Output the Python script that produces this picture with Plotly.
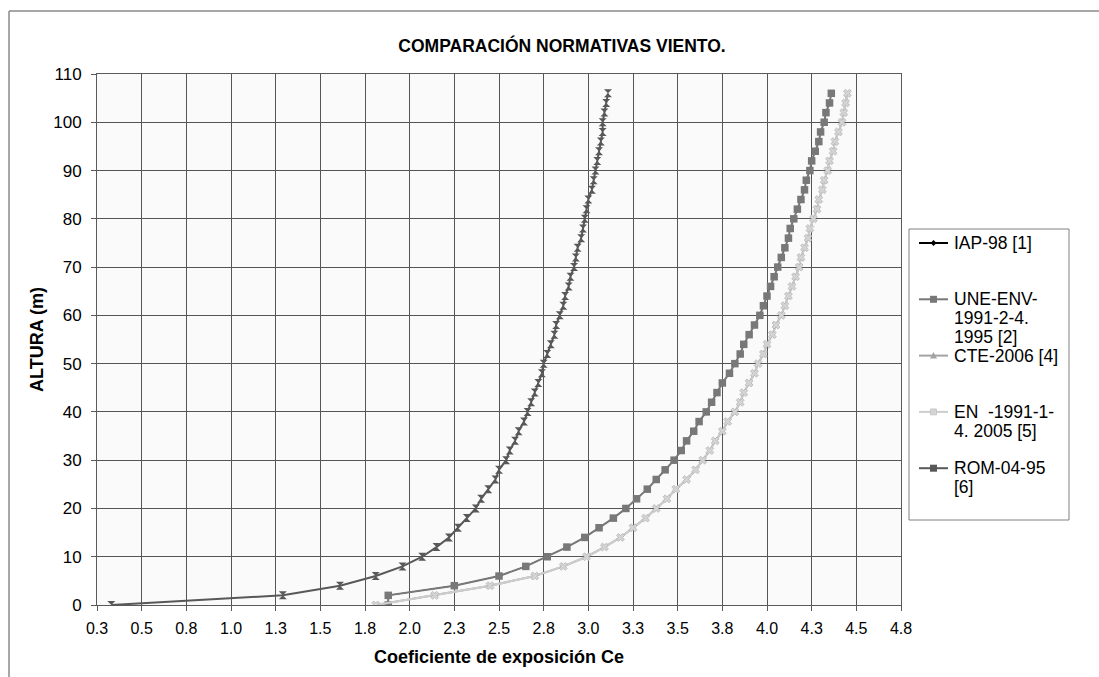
import plotly.graph_objects as go

# ---------------- data ----------------
alturas = [0, 2, 4, 6, 8, 10, 12, 14, 16, 18, 20, 22, 24, 26, 28, 30, 32, 34, 36, 38,
           40, 42, 44, 46, 48, 50, 52, 54, 56, 58, 60, 62, 64, 66, 68, 70, 72, 74, 76, 78,
           80, 82, 84, 86, 88, 90, 92, 94, 96, 98, 100, 102, 104, 106]

iap_98 = [1.88, 1.88, 2.25, 2.50, 2.65, 2.77, 2.88, 2.98, 3.06, 3.14, 3.21, 3.27, 3.33, 3.38,
          3.43, 3.48, 3.52, 3.55, 3.59, 3.62, 3.66, 3.69, 3.72, 3.75, 3.79, 3.82, 3.85, 3.87,
          3.90, 3.93, 3.96, 3.98, 4.00, 4.02, 4.04, 4.06, 4.08, 4.10, 4.12, 4.13, 4.15, 4.17,
          4.19, 4.21, 4.22, 4.24, 4.25, 4.27, 4.29, 4.30, 4.32, 4.33, 4.35, 4.36]

une_env = [1.88, 1.88, 2.25, 2.50, 2.65, 2.77, 2.88, 2.98, 3.06, 3.14, 3.21, 3.27, 3.33, 3.38,
           3.43, 3.48, 3.52, 3.55, 3.59, 3.62, 3.66, 3.69, 3.72, 3.75, 3.79, 3.82, 3.85, 3.87,
           3.90, 3.93, 3.96, 3.98, 4.00, 4.02, 4.04, 4.06, 4.08, 4.10, 4.12, 4.13, 4.15, 4.17,
           4.19, 4.21, 4.22, 4.24, 4.25, 4.27, 4.29, 4.30, 4.32, 4.33, 4.35, 4.36]

cte_2006 = [1.81, 2.14, 2.45, 2.70, 2.86, 2.99, 3.09, 3.18, 3.25, 3.32, 3.38, 3.44, 3.49, 3.55,
            3.60, 3.64, 3.68, 3.71, 3.75, 3.78, 3.82, 3.85, 3.87, 3.90, 3.93, 3.95, 3.98, 4.00,
            4.03, 4.05, 4.08, 4.10, 4.12, 4.14, 4.16, 4.18, 4.19, 4.21, 4.23, 4.24, 4.26, 4.28,
            4.29, 4.31, 4.32, 4.34, 4.35, 4.37, 4.38, 4.40, 4.42, 4.43, 4.44, 4.45]

en_1991 = [1.81, 2.14, 2.45, 2.70, 2.86, 2.99, 3.09, 3.18, 3.25, 3.32, 3.38, 3.44, 3.49, 3.55,
           3.60, 3.64, 3.68, 3.71, 3.75, 3.78, 3.82, 3.85, 3.87, 3.90, 3.93, 3.95, 3.98, 4.00,
           4.03, 4.05, 4.08, 4.10, 4.12, 4.14, 4.16, 4.18, 4.19, 4.21, 4.23, 4.24, 4.26, 4.28,
           4.29, 4.31, 4.32, 4.34, 4.35, 4.37, 4.38, 4.40, 4.42, 4.43, 4.44, 4.45]

rom_04_95 = [0.33, 1.29, 1.61, 1.81, 1.96, 2.07, 2.15, 2.22, 2.27, 2.32, 2.37, 2.40, 2.44, 2.48,
             2.50, 2.54, 2.56, 2.59, 2.61, 2.64, 2.66, 2.68, 2.70, 2.72, 2.74, 2.75, 2.77, 2.79,
             2.81, 2.82, 2.84, 2.86, 2.87, 2.89, 2.90, 2.92, 2.93, 2.94, 2.96, 2.97, 2.98, 2.99,
             3.00, 3.02, 3.03, 3.04, 3.05, 3.06, 3.07, 3.08, 3.08, 3.09, 3.10, 3.11]

legend_lines = [
    ["IAP-98 [1]"],
    ["UNE-ENV-", "1991-2-4.", "1995 [2]"],
    ["CTE-2006 [4]"],
    ["EN\u00a0 -1991-1-", "4. 2005 [5]"],
    ["ROM-04-95", "[6]"],
]

x_tickvals = [0.25, 0.5, 0.75, 1.0, 1.25, 1.5, 1.75, 2.0, 2.25, 2.5, 2.75, 3.0, 3.25, 3.5,
              3.75, 4.0, 4.25, 4.5, 4.75]
x_ticktext = ["0.3", "0.5", "0.8", "1.0", "1.3", "1.5", "1.8", "2.0", "2.3", "2.5", "2.8",
              "3.0", "3.3", "3.5", "3.8", "4.0", "4.3", "4.5", "4.8"]
y_tickvals = [0, 10, 20, 30, 40, 50, 60, 70, 80, 90, 100, 110]

# ---------------- styles ----------------
series = [
    dict(x=iap_98, color="#000000", mcolor="#000000", symbol="diamond", size=5, width=1, legsym="diamond"),
    dict(x=une_env, color="#787878", mcolor="#787878", symbol="square", size=7.5, width=2, legsym="square"),
    dict(x=cte_2006, color="#a3a3a3", mcolor="#a3a3a3", symbol="triangle-up", size=5, width=2, legsym="triangle"),
    dict(x=en_1991, color="#cdcdcd", mcolor="#d4d4d4", symbol="x", size=7, width=2, legsym="x"),
    dict(x=rom_04_95, color="#585858", mcolor="#585858", symbol="hourglass", size=8, width=2, legsym="square"),
]

FONT = "Liberation Sans, Arial, sans-serif"
W, H = 1099, 677
# plot area in screen pixels
SL, SR, ST, SB = 97, 901, 74, 605


def fx(p):  # screen px -> paper
    return (p - SL) / (SR - SL)


def fy(p):
    return (SB - p) / (SB - ST)


fig = go.Figure()
for s, lines in zip(series, legend_lines):
    fig.add_trace(go.Scatter(
        x=s["x"], y=alturas, mode="lines+markers",
        name=" ".join(lines),
        line=dict(color=s["color"], width=s["width"]),
        marker=dict(symbol=s["symbol"], size=s["size"], color=s["mcolor"],
                    line=dict(width=0.6 if s["symbol"] == "x" else 0, color="#a8a8a8")),
        showlegend=False,
    ))

shapes = []
annotations = []

# outer chart-area frame (left and top edges visible in the picture)
shapes.append(dict(type="line", xref="paper", yref="paper",
                   x0=fx(9), x1=fx(9), y0=fy(11), y1=fy(700),
                   line=dict(color="#8a8a8a", width=1.5), layer="below"))
shapes.append(dict(type="line", xref="paper", yref="paper",
                   x0=fx(9), x1=fx(1120), y0=fy(11), y1=fy(11),
                   line=dict(color="#8a8a8a", width=1.5), layer="below"))

# legend box
shapes.append(dict(type="rect", xref="paper", yref="paper",
                   x0=fx(909), x1=fx(1069), y0=fy(520), y1=fy(229),
                   line=dict(color="#808080", width=1), fillcolor="white"))

first_y = 243
step = 56.3
for i, (s, lines) in enumerate(zip(series, legend_lines)):
    yc = first_y + i * step
    col = s["color"]
    shapes.append(dict(type="line", xref="paper", yref="paper",
                       x0=fx(919), x1=fx(948), y0=fy(yc), y1=fy(yc),
                       line=dict(color=col, width=2)))
    cx = 933.5
    r = 3.5
    if s["legsym"] == "square":
        shapes.append(dict(type="rect", xref="paper", yref="paper",
                           x0=fx(cx - r), x1=fx(cx + r), y0=fy(yc + r), y1=fy(yc - r),
                           line=dict(width=0), fillcolor=s["mcolor"]))
    elif s["legsym"] == "diamond":
        d = 3
        shapes.append(dict(type="path", xref="paper", yref="paper",
                           path=f"M {fx(cx)},{fy(yc - d)} L {fx(cx + d)},{fy(yc)} L {fx(cx)},{fy(yc + d)} L {fx(cx - d)},{fy(yc)} Z",
                           line=dict(width=0), fillcolor=s["mcolor"]))
    elif s["legsym"] == "triangle":
        d = 3.5
        shapes.append(dict(type="path", xref="paper", yref="paper",
                           path=f"M {fx(cx)},{fy(yc - d)} L {fx(cx + d)},{fy(yc + d * 0.8)} L {fx(cx - d)},{fy(yc + d * 0.8)} Z",
                           line=dict(width=0), fillcolor=s["mcolor"]))
    else:
        d = 3
        shapes.append(dict(type="rect", xref="paper", yref="paper",
                           x0=fx(cx - d), x1=fx(cx + d), y0=fy(yc + d), y1=fy(yc - d),
                           line=dict(width=0.6, color="#b8b8b8"), fillcolor=s["mcolor"]))
    for j, txt in enumerate(lines):
        annotations.append(dict(xref="paper", yref="paper", x=fx(952), y=fy(yc + j * 19),
                                xanchor="left", yanchor="middle", showarrow=False, text=txt,
                                font=dict(family=FONT, size=17.5, color="#000000")))

fig.update_layout(
    width=W, height=H,
    margin=dict(l=SL, r=W - SR, t=ST, b=H - SB, pad=0),
    paper_bgcolor="white",
    plot_bgcolor="#fafafa",
    showlegend=False,
    title=dict(text="COMPARACIÓN NORMATIVAS VIENTO.", x=562 / W, xanchor="center",
               y=1 - 46 / H, yanchor="middle",
               font=dict(family=FONT, size=17.5, color="#000000", weight="bold")),
    xaxis=dict(range=[0.25, 4.75], tickvals=x_tickvals, ticktext=x_ticktext,
               automargin=False,
               showgrid=True, gridcolor="#555555", gridwidth=1, zeroline=False,
               showline=True, linecolor="#5a5a5a", linewidth=1, mirror=True,
               ticks="outside", ticklen=5, tickcolor="#5a5a5a",
               ticklabelstandoff=4,
               tickfont=dict(family=FONT, size=16, color="#000000"),
               title=dict(text="Coeficiente de exposición Ce", standoff=14,
                          font=dict(family=FONT, size=18, color="#000000", weight="bold"))),
    yaxis=dict(range=[0, 110], tickvals=y_tickvals,
               automargin=False,
               showgrid=True, gridcolor="#555555", gridwidth=1, zeroline=False,
               showline=True, linecolor="#5a5a5a", linewidth=1, mirror=True,
               ticks="outside", ticklen=5, tickcolor="#5a5a5a",
               ticklabelstandoff=6,
               tickfont=dict(family=FONT, size=17, color="#000000"),
               title=dict(text="ALTURA (m)", standoff=4,
                          font=dict(family=FONT, size=18, color="#000000", weight="bold"))),
    shapes=shapes,
    annotations=annotations,
)

fig.write_html(
    "out.html",
    config={"displayModeBar": False},
    post_script=(
        "document.documentElement.style.margin='0';"
        "document.body.style.margin='0';"
        "document.documentElement.style.overflow='hidden';"
        "document.body.style.overflow='hidden';"
    ),
)
